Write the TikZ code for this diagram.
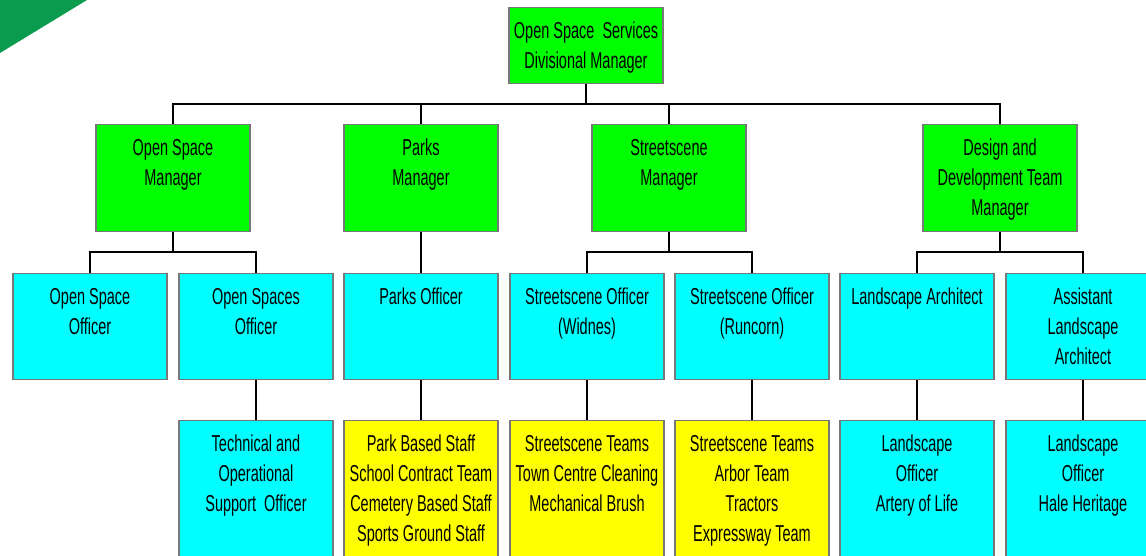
\documentclass[tikz,border=0pt]{standalone}
\usepackage{fontspec}
\setmainfont{Liberation Sans}[FakeStretch=0.63]
\usepackage{tikz}

\definecolor{mgrgreen}{HTML}{00FF00}
\definecolor{offcyan}{HTML}{00FFFF}
\definecolor{teamyellow}{HTML}{FFFF00}
\definecolor{cornergreen}{HTML}{0B9B4F}
\definecolor{boxgray}{HTML}{777777}

\newcommand{\orgtext}[2]{\parbox[c][#1][t]{154pt}{\centering\rule{0pt}{31pt}#2}}

\begin{document}
\begin{tikzpicture}[x=1pt,y=-1pt,font=\fontsize{23}{30}\selectfont]

\tikzset{box/.style = {draw=boxgray, line width=1.4pt, inner sep=0pt, anchor=north}}
\tikzset{edge/.style = {draw=black, line width=1.2pt}}

\clip (0,0) rectangle (1146,556);
\useasboundingbox (0,0) rectangle (1146,556);
\fill[cornergreen] (0,0) -- (87,0) -- (0,53) -- cycle;

%managers
\node[box, fill=mgrgreen] (div) at (586,7) {\orgtext{76pt}{Open Space\ \ Services\\Divisional Manager}};
\node[box, fill=mgrgreen] (osm) at (173,124) {\orgtext{107pt}{Open Space\\Manager}};
\node[box, fill=mgrgreen] (pm) at (421,124) {\orgtext{107pt}{Parks\\Manager}};
\node[box, fill=mgrgreen] (sm) at (669,124) {\orgtext{107pt}{Streetscene\\Manager}};
\node[box, fill=mgrgreen] (ddm) at (1000,124) {\orgtext{107pt}{Design and\\Development Team\\Manager}};
%officers
\node[box, fill=offcyan] (oso) at (90,273) {\orgtext{106pt}{Open Space\\Officer}};
\node[box, fill=offcyan] (osso) at (256,273) {\orgtext{106pt}{Open Spaces\\Officer}};
\node[box, fill=offcyan] (po) at (421,273) {\orgtext{106pt}{Parks Officer}};
\node[box, fill=offcyan] (sow) at (587,273) {\orgtext{106pt}{Streetscene Officer\\(Widnes)}};
\node[box, fill=offcyan] (sor) at (752,273) {\orgtext{106pt}{Streetscene Officer\\(Runcorn)}};
\node[box, fill=offcyan] (la) at (917,273) {\orgtext{106pt}{Landscape Architect}};
\node[box, fill=offcyan] (ala) at (1083,273) {\orgtext{106pt}{Assistant\\Landscape\\Architect}};
%teams
\node[box, fill=offcyan] (tos) at (256,420) {\orgtext{150pt}{Technical and\\Operational\\Support\ \ Officer}};
\node[box, fill=teamyellow] (pbs) at (421,420) {\orgtext{150pt}{Park Based Staff\\School Contract Team\\Cemetery Based Staff\\Sports Ground Staff}};
\node[box, fill=teamyellow] (stw) at (587,420) {\orgtext{150pt}{Streetscene Teams\\Town Centre Cleaning\\Mechanical Brush}};
\node[box, fill=teamyellow] (str) at (752,420) {\orgtext{150pt}{Streetscene Teams\\Arbor Team\\Tractors\\Expressway Team}};
\node[box, fill=offcyan] (lo1) at (917,420) {\orgtext{150pt}{Landscape\\Officer\\Artery of Life}};
\node[box, fill=offcyan] (lo2) at (1083,420) {\orgtext{150pt}{Landscape\\Officer\\Hale Heritage}};

%edges
\coordinate (bus1) at (0,104);
\coordinate (bus2) at (0,252);
\draw[edge] (osm.north) |- (ddm.north |- bus1) -- (ddm.north);
\foreach \n in {div.south, pm.north, sm.north}
  \draw[edge] (\n) -- (\n |- bus1);
\draw[edge] (oso.north) |- (osso.north |- bus2) -- (osso.north);
\draw[edge] (osm.south) -- (osm.south |- bus2);
\draw[edge] (sow.north) |- (sor.north |- bus2) -- (sor.north);
\draw[edge] (sm.south) -- (sm.south |- bus2);
\draw[edge] (la.north) |- (ala.north |- bus2) -- (ala.north);
\draw[edge] (ddm.south) -- (ddm.south |- bus2);
\draw[edge] (pm) -- (po);
\draw[edge] (osso) -- (tos);
\draw[edge] (po) -- (pbs);
\draw[edge] (sow) -- (stw);
\draw[edge] (sor) -- (str);
\draw[edge] (la) -- (lo1);
\draw[edge] (ala) -- (lo2);

\end{tikzpicture}
\end{document}
